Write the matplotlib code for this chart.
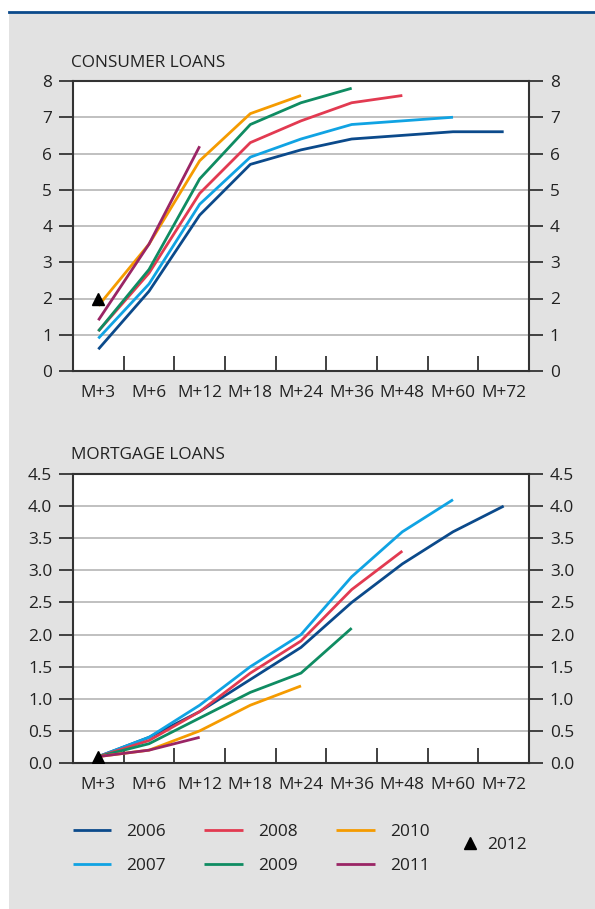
import matplotlib
matplotlib.use("Agg")
import matplotlib.pyplot as plt
from matplotlib.patches import Rectangle
from matplotlib.lines import Line2D
import numpy as np

plt.rcParams['font.family'] = ['Open Sans', 'DejaVu Sans']

categories = ["M+3", "M+6", "M+12", "M+18", "M+24", "M+36", "M+48", "M+60", "M+72"]
years = ["2006", "2007", "2008", "2009", "2010", "2011"]
colors = ["#0b4a8b", "#10a3e3", "#e23a51", "#0f8c62", "#f59b00", "#9a2565"]

consumer_2006 = [0.6, 2.2, 4.3, 5.7, 6.1, 6.4, 6.5, 6.6, 6.6]
consumer_2007 = [0.9, 2.4, 4.6, 5.9, 6.4, 6.8, 6.9, 7.0]
consumer_2008 = [1.1, 2.7, 4.9, 6.3, 6.9, 7.4, 7.6]
consumer_2009 = [1.1, 2.8, 5.3, 6.8, 7.4, 7.8]
consumer_2010 = [1.8, 3.5, 5.8, 7.1, 7.6]
consumer_2011 = [1.4, 3.5, 6.2]
consumer_2012 = [2.0]

mortgage_2006 = [0.1, 0.4, 0.8, 1.3, 1.8, 2.5, 3.1, 3.6, 4.0]
mortgage_2007 = [0.1, 0.4, 0.9, 1.5, 2.0, 2.9, 3.6, 4.1]
mortgage_2008 = [0.1, 0.35, 0.8, 1.4, 1.9, 2.7, 3.3]
mortgage_2009 = [0.1, 0.3, 0.7, 1.1, 1.4, 2.1]
mortgage_2010 = [0.1, 0.2, 0.5, 0.9, 1.2]
mortgage_2011 = [0.1, 0.2, 0.4]
mortgage_2012 = [0.1]

consumer = [consumer_2006, consumer_2007, consumer_2008, consumer_2009, consumer_2010, consumer_2011]
mortgage = [mortgage_2006, mortgage_2007, mortgage_2008, mortgage_2009, mortgage_2010, mortgage_2011]

W, H = 595, 909
fig = plt.figure(figsize=(W / 100, H / 100), dpi=100)
fig.patch.set_facecolor("white")
fig.add_artist(Rectangle((9 / W, 0), 1 - 9 / W, 1 - 12 / H, transform=fig.transFigure,
                         facecolor="#e2e2e2", edgecolor="none", zorder=-10))
fig.add_artist(Line2D([9 / W, 1], [1 - 12 / H, 1 - 12 / H], transform=fig.transFigure,
                      color="#0b4a8b", lw=2.0))

text_color = "#222222"
fs = 12.4


def setup(ax, series, extra, ymax, step, fmt, title, title_y):
    ax.set_facecolor("white")
    x = np.arange(len(categories))
    handles = []
    for vals, c, y in zip(series, colors, years):
        h, = ax.plot(x[:len(vals)], vals, color=c, lw=2.0, solid_capstyle="butt", label=y, zorder=3)
        handles.append(h)
    tri, = ax.plot(x[:len(extra)], extra, linestyle="none", marker="^", color="black",
                   markersize=9, label="2012", zorder=4)
    ax.set_xlim(-0.5, len(categories) - 0.5)
    ax.set_ylim(0, ymax)
    yt = np.arange(0, ymax + step / 2, step)
    ax.set_yticks(yt)
    ax.set_yticklabels([fmt.format(v) for v in yt])
    ax.grid(axis="y", color="#b5b5b5", lw=1.2, zorder=0)
    ax.set_axisbelow(True)
    ax.set_xticks(x)
    ax.set_xticklabels(categories)
    ax.set_xticks(np.arange(0.5, len(categories) - 0.5, 1), minor=True)
    ax.tick_params(axis="x", which="major", length=0, pad=10, labelsize=fs, colors=text_color)
    ax.tick_params(axis="x", which="minor", direction="in", length=11, width=1.3, color="#333333")
    ax.tick_params(axis="y", which="major", direction="out", length=10, width=1.3, color="#333333",
                   left=True, right=True, labelleft=True, labelright=True, labelsize=fs,
                   labelcolor=text_color, pad=5)
    for s in ax.spines.values():
        s.set_color("#333333")
        s.set_linewidth(1.5)
    fig.text(71 / W, 1 - title_y / H, title, fontsize=fs, color=text_color, va="baseline", ha="left")
    return handles, tri


ax1 = fig.add_axes([73 / W, 1 - 371 / H, 456 / W, 290 / H])
h, tri = setup(ax1, consumer, consumer_2012, 8, 1, "{:.0f}", "CONSUMER LOANS", 67)

ax2 = fig.add_axes([73 / W, 1 - 763 / H, 456 / W, 289 / H])
setup(ax2, mortgage, mortgage_2012, 4.5, 0.5, "{:.1f}", "MORTGAGE LOANS", 459)

leg = fig.legend(handles=h, labels=years, ncol=3, loc="upper left",
                 bbox_to_anchor=(57 / W, 1 - 808 / H), frameon=False, fontsize=fs,
                 handlelength=2.25, handletextpad=0.86, columnspacing=2.25, labelspacing=1.05)
for t in leg.get_texts():
    t.set_color(text_color)
leg2 = fig.legend(handles=[tri], labels=["2012"], loc="upper left",
                  bbox_to_anchor=(446 / W, 1 - 821 / H), frameon=False, fontsize=fs,
                  handlelength=1.0, handletextpad=0.5, markerscale=0.9)
for t in leg2.get_texts():
    t.set_color(text_color)

fig.savefig("out.png", dpi=100, facecolor=fig.get_facecolor())
